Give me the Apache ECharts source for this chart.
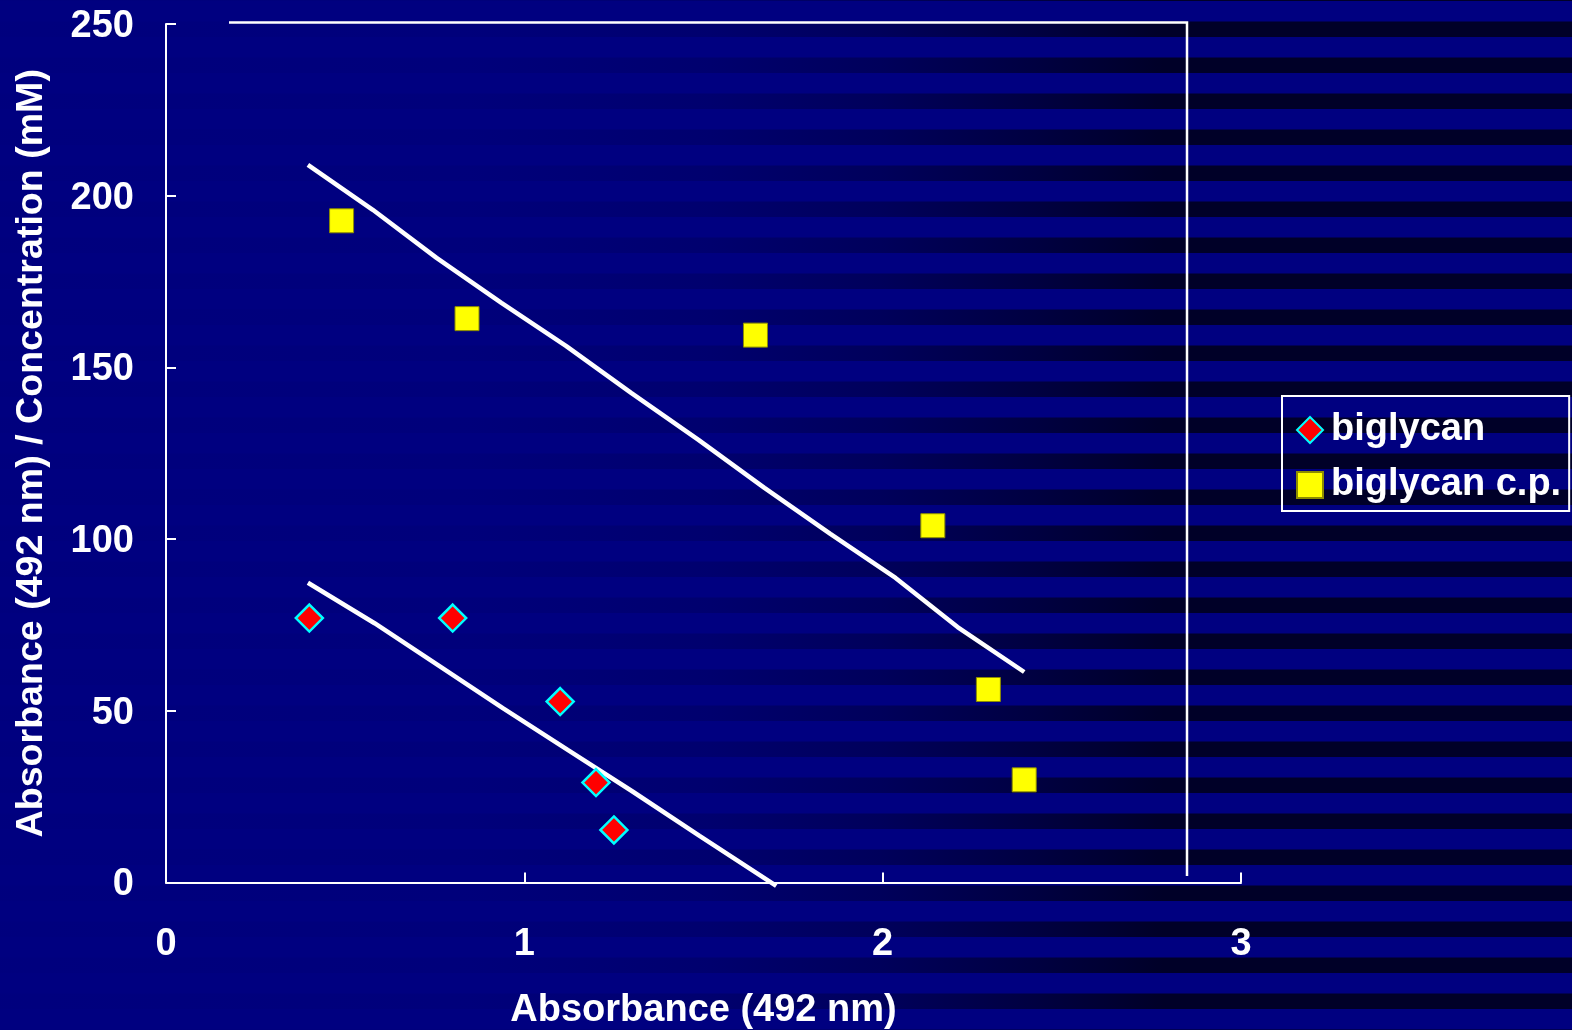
<!DOCTYPE html>
<html>
<head>
<meta charset="utf-8">
<title>Absorbance / Concentration</title>
<script src="https://cdn.jsdelivr.net/npm/echarts@6/dist/echarts.min.js"></script>
<style>
  html, body { margin: 0; padding: 0; background: #000080; }
  #chart { width: 1572px; height: 1030px; }
</style>
</head>
<body>
<div id="chart"></div>
<script>
// Axis ticks
const xTicks = [0, 1, 2, 3];
const yTicks = [0, 50, 100, 150, 200, 250];

// biglycan measurements
const biglycanX = [0.40, 0.80, 1.10, 1.20, 1.25];
const biglycanY = [77.0, 77.0, 52.7, 29.1, 15.3];

// biglycan c.p. measurements
const cpX = [0.49, 0.84, 1.645, 2.14, 2.295, 2.395];
const cpY = [192.7, 164.2, 159.4, 103.9, 56.2, 29.9];

// Fitted trend line through biglycan c.p.
const cpFitX = [0.396, 0.577, 0.755, 0.936, 1.117, 1.299, 1.486, 1.670, 1.854, 2.036, 2.209, 2.395];
const cpFitY = [209.0, 195.9, 181.9, 168.8, 156.2, 142.5, 128.9, 114.9, 101.5, 88.7, 74.4, 61.3];

// Fitted trend line through biglycan
const bgFitX = [0.396, 0.582, 0.758, 0.940, 1.121, 1.302, 1.489, 1.703];
const bgFitY = [87.3, 75.5, 63.4, 50.8, 38.6, 26.5, 13.6, -1.0];

const zip = (xs, ys) => xs.map((x, i) => [x, ys[i]]);

const FONT = "'Liberation Sans', Arial, sans-serif";
const W = 1572, H = 1030;

// Banded backdrop: dark stripes that strengthen towards the right
const stripes = [];
for (let y = 21.5 - 36; y < H; y += 36) {
  stripes.push({
    type: 'rect',
    silent: true,
    z: -10,
    shape: { x: 0, y: y, width: W, height: 15.5 },
    style: {
      fill: {
        type: 'linear', x: 0, y: 0, x2: 1, y2: 0,
        colorStops: [
          { offset: 0.00, color: 'rgba(0,0,40,0.02)' },
          { offset: 0.30, color: 'rgba(0,0,40,0.06)' },
          { offset: 0.45, color: 'rgba(0,0,40,0.20)' },
          { offset: 0.56, color: 'rgba(0,0,40,0.42)' },
          { offset: 0.66, color: 'rgba(0,0,40,0.72)' },
          { offset: 0.74, color: 'rgba(0,0,40,1)' },
          { offset: 1.00, color: 'rgba(0,0,40,1)' }
        ]
      }
    }
  });
}

// Open frame along the top and right of the plot
const frame = {
  type: 'polyline',
  silent: true,
  z: 1,
  shape: { points: [[229, 22.5], [1187, 22.5], [1187, 876]] },
  style: { stroke: '#ffffff', lineWidth: 2.5, fill: null }
};

const labelStyle = { color: '#ffffff', fontSize: 38, fontWeight: 'bold', fontFamily: FONT };

const chart = echarts.init(document.getElementById('chart'), null, { renderer: 'canvas' });

chart.setOption({
  animation: false,
  backgroundColor: '#000080',
  graphic: { elements: stripes.concat([frame]) },
  grid: {
    left: 166, right: 331, top: 24, bottom: 147.5,
    containLabel: false,
    outerBoundsMode: 'none'
  },
  legend: {
    data: ['biglycan', 'biglycan c.p.'],
    orient: 'vertical',
    left: 1282,
    top: 396,
    padding: [12, 8, 4, 14],
    itemGap: 11,
    itemWidth: 26,
    itemHeight: 26,
    borderColor: '#ffffff',
    borderWidth: 2,
    borderRadius: 0,
    backgroundColor: 'transparent',
    textStyle: Object.assign({}, labelStyle, { lineHeight: 44, padding: [0, 0, 0, 3] })
  },
  xAxis: {
    type: 'value',
    z: 5,
    min: xTicks[0],
    max: xTicks[xTicks.length - 1],
    interval: xTicks[1] - xTicks[0],
    name: 'Absorbance (492 nm)',
    nameLocation: 'middle',
    nameGap: 109,
    nameTextStyle: labelStyle,
    axisLine: { show: true, onZero: false, lineStyle: { color: '#ffffff', width: 2 } },
    axisTick: { show: true, inside: true, length: 10, lineStyle: { color: '#ffffff', width: 2 } },
    axisLabel: Object.assign({ margin: 43 }, labelStyle),
    splitLine: { show: false }
  },
  yAxis: {
    type: 'value',
    z: 5,
    min: yTicks[0],
    max: yTicks[yTicks.length - 1],
    interval: yTicks[1] - yTicks[0],
    name: 'Absorbance (492 nm) / Concentration (mM)',
    nameLocation: 'middle',
    nameGap: 115,
    nameTextStyle: Object.assign({}, labelStyle, { fontSize: 37.6 }),
    axisLine: { show: true, onZero: false, lineStyle: { color: '#ffffff', width: 2 } },
    axisTick: { show: true, inside: true, length: 10, lineStyle: { color: '#ffffff', width: 2 } },
    axisLabel: Object.assign({ margin: 32, verticalAlign: 'top', lineHeight: 5 }, labelStyle),
    splitLine: { show: false }
  },
  series: [
    {
      name: 'cp-fit',
      type: 'line',
      data: zip(cpFitX, cpFitY),
      symbol: 'none',
      clip: false,
      silent: true,
      z: 2,
      lineStyle: { color: '#ffffff', width: 4.5 }
    },
    {
      name: 'bg-fit',
      type: 'line',
      data: zip(bgFitX, bgFitY),
      symbol: 'none',
      clip: false,
      silent: true,
      z: 2,
      lineStyle: { color: '#ffffff', width: 4.5 }
    },
    {
      name: 'biglycan',
      type: 'scatter',
      data: zip(biglycanX, biglycanY),
      symbol: 'diamond',
      symbolSize: 27,
      z: 4,
      itemStyle: { color: '#ff0000', borderColor: '#00ffff', borderWidth: 2.5, opacity: 1 }
    },
    {
      name: 'biglycan c.p.',
      type: 'scatter',
      data: zip(cpX, cpY),
      symbol: 'rect',
      symbolSize: 24,
      z: 4,
      itemStyle: { color: '#ffff00', borderColor: '#8c8c00', borderWidth: 1, opacity: 1 }
    }
  ]
});
</script>
</body>
</html>
